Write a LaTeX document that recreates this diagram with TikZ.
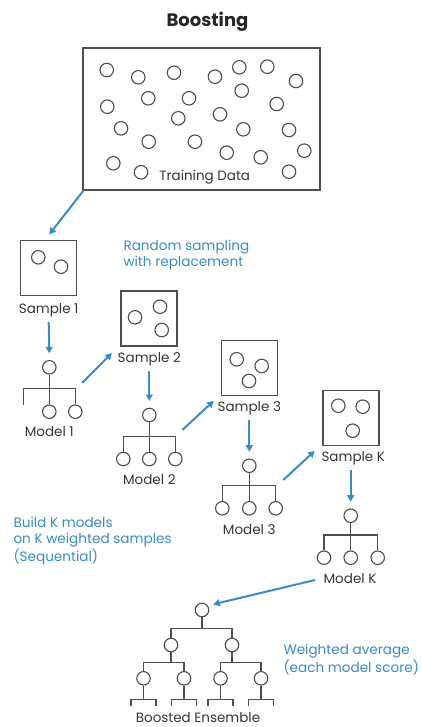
\documentclass[tikz,border=0pt]{standalone}
\usepackage{fontspec}
\setmainfont{Poppins}
\usetikzlibrary{arrows.meta,calc}
\definecolor{ablue}{RGB}{58,140,196}
\definecolor{lgray}{RGB}{78,78,78}
\definecolor{tgray}{RGB}{55,55,55}
\begin{document}
\begin{tikzpicture}[x=1pt,y=-1pt,
  dot/.style={circle,draw=lgray,line width=1.1pt,minimum size=13.5pt,inner sep=0pt},
  sbox/.style={draw=lgray,line width=1.2pt,minimum width=56pt,minimum height=55pt,inner sep=0pt},
  tline/.style={draw=lgray,line width=1.2pt},
  arr/.style={draw=ablue,line width=2pt,-{Triangle[length=6.5pt,width=7pt]}},
  lbl/.style={text=tgray,font=\fontsize{13.5}{16}\selectfont,inner sep=0pt},
  note/.style={text=ablue,font=\fontsize{13.6}{16}\selectfont,align=left,inner sep=0pt,anchor=west},
]
\fill[white] (0,0) rectangle (421,727);
\useasboundingbox (0,0) rectangle (421,727);

% title
\node[text=black!85,font=\fontsize{18}{20}\selectfont\bfseries,inner sep=0pt] (title) at (207.5,22) {Boosting};

% training data
\node[draw=lgray,line width=1.3pt,minimum width=237pt,minimum height=142pt,inner sep=0pt] (td) at (201.5,119) {};
\foreach \x/\y [count=\i] in {106.7/70,138.3/77.3,174/72.7,215/76.7,239.3/67.3,267.3/66.7,296/81,
  148.3/98.3,189/98.3,241.7/90.7,107.3/106.7,276.7/104,178.3/118.3,220/114.3,121/128.3,243.3/129.3,
  289/130,148.7/141.7,195/141.7,226.7/152.7,260.7/157.3,304.3/150.7,113.3/163.3,141/172.3,289/171.7}
  \node[dot] (t\i) at (\x,\y) {};
\node[lbl] (tdl) at (204.7,176.7) {Training Data};

% samples
\node[sbox] (s1) at (48.7,268.2) {};
\node[dot] (s1a) at ($(s1)+(-10.4,-10.9)$) {};
\node[dot] (s1b) at ($(s1)+(12.3,-1.5)$) {};
\node[lbl] (s1l) at (48.7,310) {Sample 1};

\node[sbox] (s2) at (149,318.5) {};
\node[dot] (s2a) at ($(s2)+(-14,-1.2)$) {};
\node[dot] (s2b) at ($(s2)+(11,-11.8)$) {};
\node[dot] (s2c) at ($(s2)+(12.7,11.5)$) {};
\node[lbl] (s2l) at (149.3,359.3) {Sample 2};

\node[sbox] (s3) at (249.3,367.8) {};
\node[dot] (s3a) at ($(s3)+(-12.6,-8.5)$) {};
\node[dot] (s3b) at ($(s3)+(12.4,-1.8)$) {};
\node[dot] (s3c) at ($(s3)+(-0.3,13.2)$) {};
\node[lbl] (s3l) at (249.3,408.3) {Sample 3};

\node[sbox] (sk) at (351,417.8) {};
\node[dot] (ska) at ($(sk)+(-12.7,-12.1)$) {};
\node[dot] (skb) at ($(sk)+(11.7,-11.1)$) {};
\node[dot] (skc) at ($(sk)+(1.7,12.9)$) {};
\node[lbl] (skl) at (353.3,458.3) {Sample K};

% model 1
\node[dot] (m1) at (49.3,367.3) {};
\coordinate (m1h) at (49.3,388.3);
\coordinate (m1a) at (23.3,404.5);
\node[dot] (m1b) at (49.3,411.7) {};
\node[dot] (m1c) at (75.3,411.7) {};
\draw[tline] (m1.south) -- (m1b.north);
\draw[tline] (m1a) |- (m1h) -| (m1c.north);
\node[lbl] (m1l) at (49.3,431.7) {Model 1};

% model 2
\node[dot] (m2) at (149.3,415) {};
\coordinate (m2h) at (149.3,436.7);
\node[dot] (m2a) at (123.3,459) {};
\node[dot] (m2b) at (149.3,459) {};
\node[dot] (m2c) at (175.3,459) {};
\draw[tline] (m2.south) -- (m2b.north);
\draw[tline] (m2a.north) |- (m2h) -| (m2c.north);
\node[lbl] (m2l) at (149.3,479.5) {Model 2};

% model 3
\node[dot] (m3) at (249.3,465.7) {};
\coordinate (m3h) at (249.3,485.7);
\node[dot] (m3a) at (222.3,508.3) {};
\node[dot] (m3b) at (249.3,508.3) {};
\node[dot] (m3c) at (275.7,508.3) {};
\draw[tline] (m3.south) -- (m3b.north);
\draw[tline] (m3a.north) |- (m3h) -| (m3c.north);
\node[lbl] (m3l) at (249.3,529.3) {Model 3};

% model K
\node[dot] (mk) at (350.7,515.7) {};
\coordinate (mkh) at (350.7,535);
\node[dot] (mka) at (324,557.7) {};
\node[dot] (mkb) at (350.7,557.7) {};
\node[dot] (mkc) at (377.7,557.7) {};
\draw[tline] (mk.south) -- (mkb.north);
\draw[tline] (mka.north) |- (mkh) -| (mkc.north);
\node[lbl] (mkl) at (350,579) {Model K};

% ensemble
\node[dot] (e0) at (202,610) {};
\node[dot] (e1) at (171,645) {};
\node[dot] (e2) at (232,645) {};
\coordinate (e0h) at (202,628.5);
\draw[tline] (e0.south) -- (e0h);
\draw[tline] (e1.north) |- (e0h) -| (e2.north);
\node[dot] (e11) at (143.5,678.3) {};
\node[dot] (e12) at (184,678.3) {};
\node[dot] (e21) at (220.5,678.3) {};
\node[dot] (e22) at (261,678.3) {};
\coordinate (e1h) at (171,662.5);
\coordinate (e2h) at (232,662.5);
\draw[tline] (e1.south) -- (e1h);
\draw[tline] (e2.south) -- (e2h);
\draw[tline] (e11.north) |- (e1h) -| (e12.north);
\draw[tline] (e21.north) |- (e2h) -| (e22.north);
\foreach \L in {e11,e12,e21,e22}{
  \draw[tline] (\L.south) -- ($(\L.south)+(0,13.5)$);
  \draw[tline] ($(\L.south)+(-12.5,20)$) -- ++(0,-6.5) -- ++(25,0) -- ++(0,6.5);
}
\node[lbl] (el) at (198,717.5) {Boosted Ensemble};

% arrows
\draw[arr] ($(td.south west)+(1,0)$) -- ($(s1.north)+(0.6,-5.7)$);
\draw[arr] ($(s1l)+(0,12)$) -- ($(m1)+(0,-14)$);
\draw[arr] ($(s2l)+(0,12)$) -- ($(m2)+(0,-14)$);
\draw[arr] ($(s3l)+(0,12)$) -- ($(m3)+(0,-14)$);
\draw[arr] ($(skl)+(-2.6,12)$) -- ($(mk)+(0,-14)$);
\draw[arr] ($(m1)+(33,15.5)$) -- ($(s2.south west)+(-8.5,6.5)$);
\draw[arr] ($(m2)+(33,15)$) -- ($(s3.south west)+(-7,5)$);
\draw[arr] ($(m3)+(34,14.3)$) -- ($(sk.south west)+(-7.7,5)$);
\draw[arr] ($(mkl)+(-35,1)$) -- ($(e0)+(11.3,-5.7)$);

% notes
\node[note] (n1) at (123.3,255.5) {Random sampling\\with replacement};
\node[note] (n2) at (13.3,541) {Build K models\\on K weighted samples\\(Sequential)};
\node[note] (n3) at (283.3,659.5) {Weighted average\\(each model score)};
\end{tikzpicture}
\end{document}
